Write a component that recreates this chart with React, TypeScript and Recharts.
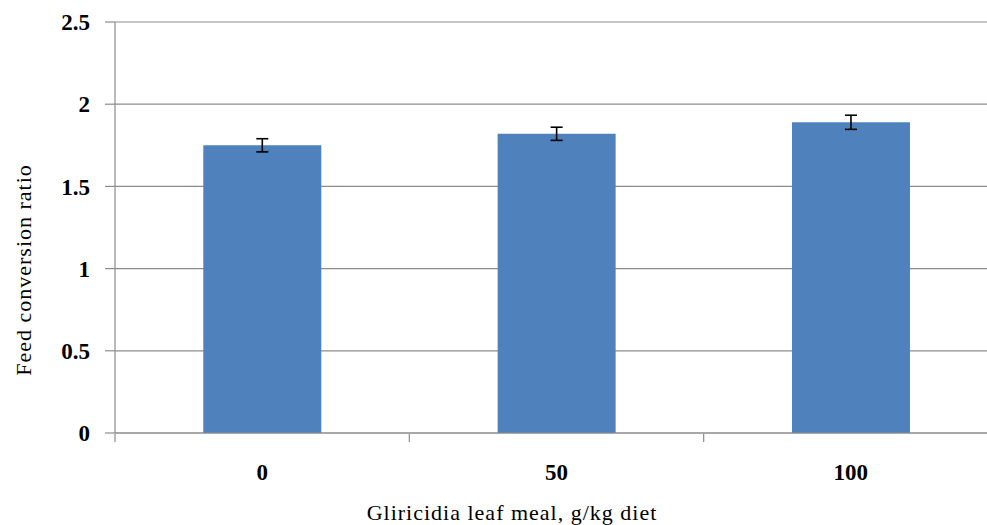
import { BarChart, Bar, XAxis, YAxis, CartesianGrid, ErrorBar } from 'recharts';

const doses = ['0', '50', '100'];
const fcr = [1.75, 1.82, 1.89];
const fcrErr = [0.04, 0.04, 0.043];
const yTicks = [0, 0.5, 1, 1.5, 2, 2.5];
const bandEdges = [0, 1, 2, 3];

const data = doses.map((d, i) => ({ dose: d, fcr: fcr[i], err: fcrErr[i], pos: i + 0.5 }));

const GRID = '#8c8c8c';
const tickFont = { fill: '#000', fontSize: 23, fontWeight: 'bold' as const, fontFamily: '"Liberation Serif", "Times New Roman", serif' };
const titleFont: React.CSSProperties = { fontFamily: '"Liberation Serif", "Times New Roman", serif', fontSize: 22, letterSpacing: 1, color: '#000', whiteSpace: 'nowrap', position: 'absolute' };

export default function App() {
  return (
    <div style={{ position: 'fixed', left: 0, top: 0, width: 987, height: 525, overflow: 'hidden', background: '#fff' }}>
      <BarChart width={1000} height={525} data={data} barCategoryGap="30%"
        margin={{ top: 22, right: 2, left: 0, bottom: 42 }}>
        <CartesianGrid horizontal vertical={false} stroke={GRID} strokeWidth={1.2} />
        {/* category labels sit nearest the plot; the band-edge ticks come from a second, numeric axis */}
        <XAxis xAxisId="cat" dataKey="dose" height={1} tickLine={false}
          axisLine={{ stroke: GRID, strokeWidth: 1.2 }} tickMargin={25} tick={tickFont} />
        <XAxis xAxisId="edges" type="number" dataKey="pos" domain={[0, 3]} ticks={bandEdges} height={49}
          tickFormatter={() => ''} tickSize={8} axisLine={false} tickLine={{ stroke: GRID, strokeWidth: 1.2 }}
          interval={0} allowDataOverflow />
        <YAxis width={115} domain={[0, 2.5]} ticks={yTicks} tickSize={10} tickMargin={15}
          axisLine={{ stroke: GRID, strokeWidth: 1.2 }} tickLine={{ stroke: GRID, strokeWidth: 1.2 }} tick={tickFont} />
        <Bar xAxisId="cat" dataKey="fcr" fill="#4f81bd" isAnimationActive={false}>
          <ErrorBar dataKey="err" width={6} stroke="#000" strokeWidth={1.6} isAnimationActive={false} />
        </Bar>
      </BarChart>
      <div style={{ ...titleFont, left: 512, top: 513, transform: 'translate(-50%, -50%)' }}>
        Gliricidia leaf meal, g/kg diet
      </div>
      <div style={{ ...titleFont, left: 24, top: 270, transform: 'translate(-50%, -50%) rotate(-90deg)' }}>
        Feed conversion ratio
      </div>
    </div>
  );
}
